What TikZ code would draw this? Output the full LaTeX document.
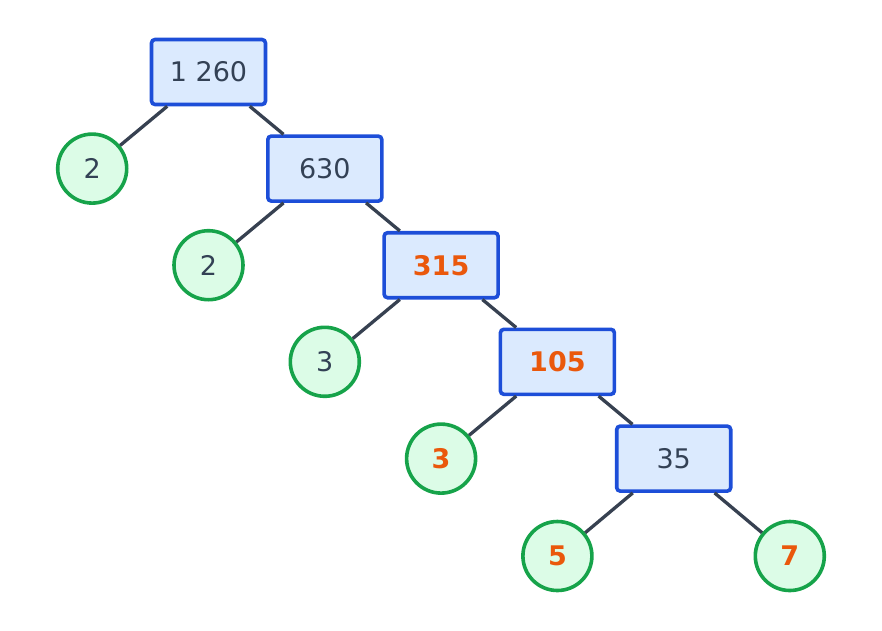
\documentclass[tikz,border=0pt]{standalone}
\usepackage{fontspec}
\setmainfont{DejaVu Sans}
\definecolor{boxfill}{HTML}{DBEAFE}
\definecolor{boxdraw}{HTML}{1D4ED8}
\definecolor{txt}{HTML}{334155}
\definecolor{hl}{HTML}{EA580C}
\definecolor{cfill}{HTML}{DCFCE7}
\definecolor{cdraw}{HTML}{16A34A}
\definecolor{edge}{HTML}{374151}
\tikzset{
  numbox/.style={draw=boxdraw, fill=boxfill, line width=3.6pt, rounded corners=3.5pt,
    minimum width=114pt, minimum height=65pt, inner sep=0pt, text=txt,
    font=\fontsize{27}{30}\selectfont},
  leaf/.style={draw=cdraw, fill=cfill, line width=3.6pt, circle, minimum size=69pt,
    inner sep=0pt, text=txt, font=\fontsize{27}{30}\selectfont},
  hot/.style={text=hl, font=\fontsize{27}{30}\selectfont\bfseries},
  conn/.style={draw=edge, line width=3.3pt}
}
\begin{document}
\begin{tikzpicture}[x=1pt,y=-1pt]
\useasboundingbox (0,0) rectangle (882,630);
\node[numbox] (b0) at (208.5,72) {1 260};
\node[numbox] (b1) at (324.8,168.6) {630};
\node[numbox,hot] (b2) at (441.1,265.2) {315};
\node[numbox,hot] (b3) at (557.4,361.8) {105};
\node[numbox] (b4) at (673.7,458.6) {35};
\node[leaf] (c0) at (92.2,168.6) {2};
\node[leaf] (c1) at (208.5,265.2) {2};
\node[leaf] (c2) at (324.8,361.8) {3};
\node[leaf,hot] (c3) at (441.1,458.6) {3};
\node[leaf,hot] (c4) at (557.4,556) {5};
\node[leaf,hot] (c5) at (789.8,556) {7};
\draw[conn] (b0) -- (c0);
\draw[conn] (b0) -- (b1);
\draw[conn] (b1) -- (c1);
\draw[conn] (b1) -- (b2);
\draw[conn] (b2) -- (c2);
\draw[conn] (b2) -- (b3);
\draw[conn] (b3) -- (c3);
\draw[conn] (b3) -- (b4);
\draw[conn] (b4) -- (c4);
\draw[conn] (b4) -- (c5);
\end{tikzpicture}
\end{document}
